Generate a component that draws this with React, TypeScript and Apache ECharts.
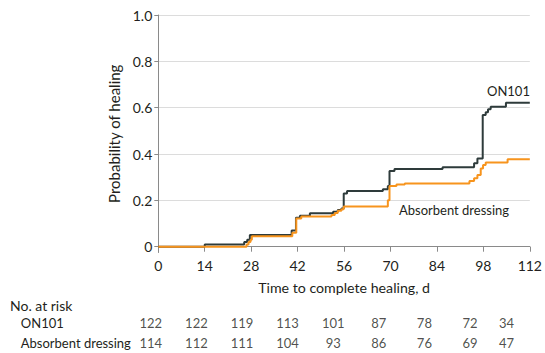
import React, { useEffect, useRef } from "react";
import * as echarts from "echarts";

// Kaplan-Meier style cumulative probability of healing (step points: day, probability)
const on101Days = [0, 14, 25.9, 26.8, 27.6, 40.2, 41.5, 42.7, 45.7, 52.7, 54.1, 55.2, 55.9, 56.9, 67.7, 69.2, 69.7, 71.2, 85.7, 95.2, 96.2, 97.8, 98.7, 99.4, 100.2, 104.8, 112];
const on101Probs = [0, 0.01, 0.02, 0.03, 0.05, 0.07, 0.125, 0.134, 0.144, 0.151, 0.158, 0.165, 0.23, 0.24, 0.248, 0.262, 0.327, 0.335, 0.343, 0.36, 0.381, 0.568, 0.58, 0.593, 0.604, 0.621, 0.621];

const absorbentDays = [0, 26.6, 27.2, 27.8, 28.2, 40.4, 41.6, 43.1, 52.2, 53.2, 54.1, 55.2, 55.9, 69.2, 69.7, 71.8, 74.3, 93.8, 95.2, 96.2, 97.2, 97.9, 98.7, 105.3, 112];
const absorbentProbs = [0, 0.01, 0.02, 0.03, 0.045, 0.06, 0.122, 0.13, 0.137, 0.145, 0.155, 0.162, 0.173, 0.2, 0.262, 0.269, 0.273, 0.284, 0.295, 0.31, 0.338, 0.353, 0.363, 0.377, 0.377];

const yTicks = [0, 0.2, 0.4, 0.6, 0.8, 1.0];
const atRiskDays = [0, 14, 28, 42, 56, 70, 84, 98, 112];
const groups = ["ON101", "Absorbent dressing"];
const on101AtRisk = [122, 122, 119, 113, 101, 87, 78, 72, 34];
const absorbentAtRisk = [114, 112, 111, 104, 93, 86, 76, 69, 47];

const FONT = "Lato";
const TEXT = "#231f20";
const DARK = "#2e3b3b";
const ORANGE = "#f7941d";

export default function App() {
  const ref = useRef<HTMLDivElement>(null);
  useEffect(() => {
    if (!ref.current) return;
    const chart = echarts.init(ref.current, undefined, { renderer: "svg" });
    const tableRows = [on101AtRisk, absorbentAtRisk];
    const tableData: any[] = [];
    tableRows.forEach((row, r) => {
      row.forEach((v, i) => {
        const item: any = { value: [atRiskDays[i], groups[r]], count: v };
        if (i === atRiskDays.length - 1) item.label = { offset: [-9, 0] };
        tableData.push(item);
      });
    });
    chart.setOption({
      animation: false,
      textStyle: { fontFamily: FONT, color: TEXT },
      grid: [
        { left: 158.3, right: 14.3, top: 15, bottom: 100.5 },
        { left: 150.8, right: 29.4, top: 313.6, height: 38.8 },
      ],
      xAxis: [
        {
          type: "value",
          gridIndex: 0,
          min: 0,
          max: 112,
          interval: 14,
          name: "Time to complete healing, d",
          nameLocation: "middle",
          nameGap: 28,
          nameTextStyle: { fontFamily: FONT, fontSize: 14.2, color: TEXT },
          axisLine: { lineStyle: { color: "#8a8a8a", width: 1 } },
          axisTick: { show: true, length: 5, lineStyle: { color: "#8a8a8a" } },
          axisLabel: { fontFamily: FONT, fontSize: 14, color: TEXT, margin: 6 },
          splitLine: { show: false },
        },
        {
          type: "value",
          gridIndex: 1,
          min: 0,
          max: 112,
          show: false,
        },
      ],
      yAxis: [
        {
          type: "value",
          gridIndex: 0,
          min: -0.025,
          max: 1,
          name: "Probability of healing",
          nameLocation: "middle",
          nameGap: 34,
          nameTextStyle: { fontFamily: FONT, fontSize: 15, color: TEXT },
          axisLine: { show: true, lineStyle: { color: "#8a8a8a", width: 1 } },
          axisTick: { show: true, length: 4, customValues: yTicks, lineStyle: { color: "#8a8a8a" } },
          axisLabel: {
            fontFamily: FONT,
            fontSize: 14,
            color: TEXT,
            margin: 6,
            customValues: yTicks,
            formatter: (v: number) => (v === 0 ? "0" : v.toFixed(1)),
          },
          splitLine: { show: true, lineStyle: { color: "#dcdcdc", width: 1 } },
        },
        {
          type: "category",
          gridIndex: 1,
          data: groups,
          inverse: true,
          axisLine: { show: false },
          axisTick: { show: false },
          splitLine: { show: false },
          axisLabel: { align: "left", margin: 130, fontFamily: FONT, fontSize: 13, color: TEXT },
        },
      ],
      series: [
        {
          name: "ON101",
          type: "line",
          step: "end",
          xAxisIndex: 0,
          yAxisIndex: 0,
          symbol: "none",
          lineStyle: { color: DARK, width: 2 },
          data: on101Days.map((d, i) => [d, on101Probs[i]]),
          z: 3,
        },
        {
          name: "Absorbent dressing",
          type: "line",
          step: "end",
          xAxisIndex: 0,
          yAxisIndex: 0,
          symbol: "none",
          lineStyle: { color: ORANGE, width: 2 },
          data: absorbentDays.map((d, i) => [d, absorbentProbs[i]]),
          z: 4,
        },
        {
          type: "scatter",
          xAxisIndex: 1,
          yAxisIndex: 1,
          symbolSize: 0,
          silent: true,
          label: {
            show: true,
            position: "inside",
            fontFamily: FONT,
            fontSize: 13,
            color: TEXT,
            formatter: (p: any) => String(p.data.count),
          },
          data: tableData,
        },
      ],
      graphic: [
        { type: "text", left: 487, top: 84, style: { text: "ON101", font: `13px ${FONT}`, fill: TEXT } },
        { type: "text", left: 399, top: 203, style: { text: "Absorbent dressing", font: `13px ${FONT}`, fill: TEXT } },
        { type: "text", left: 10, top: 298, style: { text: "No. at risk", font: `14px ${FONT}`, fill: TEXT } },
      ],
    });
    return () => chart.dispose();
  }, []);
  return <div ref={ref} style={{ width: 545, height: 353, position: "absolute", left: 0, top: 0 }} />;
}
